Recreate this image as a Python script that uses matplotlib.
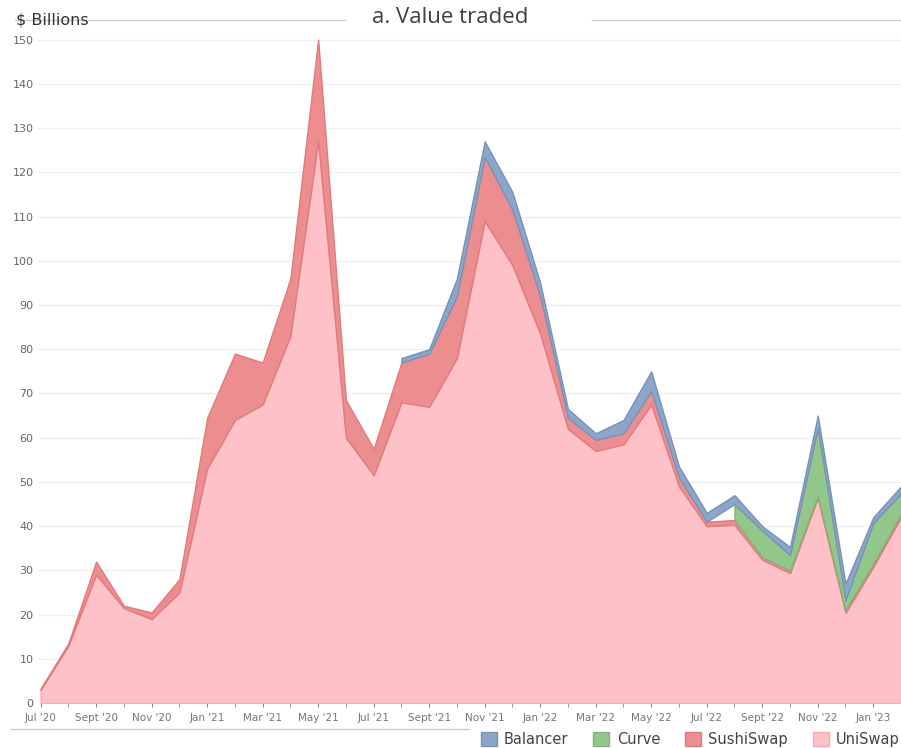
import numpy as np
import matplotlib.pyplot as plt
from matplotlib.patches import Patch
from matplotlib.lines import Line2D

# monthly values, Jul 2020 - Feb 2023, $ billions
months = ["Jul '20", "Aug '20", "Sept '20", "Oct '20", "Nov '20", "Dec '20",
          "Jan '21", "Feb '21", "Mar '21", "Apr '21", "May '21", "Jun '21",
          "Jul '21", "Aug '21", "Sept '21", "Oct '21", "Nov '21", "Dec '21",
          "Jan '22", "Feb '22", "Mar '22", "Apr '22", "May '22", "Jun '22",
          "Jul '22", "Aug '22", "Sept '22", "Oct '22", "Nov '22", "Dec '22",
          "Jan '23", "Feb '23"]
uniswap = [3, 13, 29, 21.5, 19, 25, 53, 64, 67.5, 83, 127, 60, 51.5, 68, 67, 78,
           109, 99, 83.5, 62, 57, 58.5, 67.5, 49, 40, 40.3, 32.4, 29.4, 46.4, 20.4, 30.8, 42]
sushiswap = [0.3, 0.5, 3, 0.5, 1.5, 3, 11.5, 15, 9.5, 13, 23, 8.5, 6, 9, 12, 14,
             14.5, 12.5, 8.5, 2.5, 2.5, 2.5, 3, 2, 1, 1.1, 0.6, 0.6, 0.4, 0.6, 0.7, 0.7]
curve = [np.nan] * 25 + [3.6, 6, 3.5, 15.4, 2.3, 9.2, 4.7]
balancer = [np.nan] * 13 + [1, 1, 4, 3.5, 4, 3, 2, 1.5, 3, 4.5, 2.5, 2, 2, 1, 1.8, 2.8, 3.7, 1.3, 1.6]

names = ['UniSwap', 'SushiSwap', 'Curve', 'Balancer']
colors = ['#ffc1c8', '#ec8e8f', '#93c68a', '#8ba6c9']
edges = ['#f7aab3', '#e27a7c', '#7fb676', '#7893b8']

x = np.arange(len(months))
series = [np.array(uniswap, float), np.array(sushiswap, float),
          np.array(curve, float), np.array(balancer, float)]

fig = plt.figure(figsize=(9.01, 7.48), dpi=100)
ax = fig.add_axes([0.042, 0.060, 0.958, 0.893])

base = np.zeros(len(x))
for s, c, e in zip(series, colors, edges):
    top = base + np.nan_to_num(s)
    mask = ~np.isnan(s)
    ax.fill_between(x, base, top, where=mask, color=c, edgecolor=e, linewidth=1, zorder=2)
    base = top

ax.set_xlim(-0.1, 30.85)
ax.set_ylim(0, 151)
ax.set_yticks(range(0, 151, 10))
ax.set_xticks(x[::2])
ax.set_xticklabels(months[::2])
ax.set_xticks(x, minor=True)
ax.tick_params(axis='x', which='both', length=3, color='#888888', labelsize=7.5,
               labelcolor='#777777', pad=4)
ax.tick_params(axis='y', length=0, labelsize=8, labelcolor='#666666', pad=3)
ax.grid(axis='y', color='#f0f0f0', linewidth=1, zorder=0)
for sp in ax.spines.values():
    sp.set_visible(False)

# header: unit label, title, rule broken around the title
fig.text(0.018, 0.973, '$ Billions', ha='left', va='center', fontsize=11.5, color='#333333')
fig.text(0.5, 0.977, 'a. Value traded', ha='center', va='center', fontsize=16,
         color='#404040', family='Open Sans')
fig.add_artist(Line2D([0.017, 0.383], [0.973, 0.973], color='#cccccc', linewidth=1))
fig.add_artist(Line2D([0.657, 1.0], [0.973, 0.973], color='#cccccc', linewidth=1))

# bottom line and legend
fig.add_artist(Line2D([0.012, 0.52], [0.025, 0.025], color='#cccccc', linewidth=1))
handles = [Patch(facecolor=colors[i], edgecolor=edges[i], label=names[i]) for i in [3, 2, 1, 0]]
fig.legend(handles=handles, loc='lower left', bbox_to_anchor=(0.519, -0.016), ncol=4,
           frameon=False, fontsize=10.5, handlelength=1.1, handleheight=1.1,
           columnspacing=1.7, handletextpad=0.5, labelcolor='#444444')

fig.savefig('out.png', dpi=100)
